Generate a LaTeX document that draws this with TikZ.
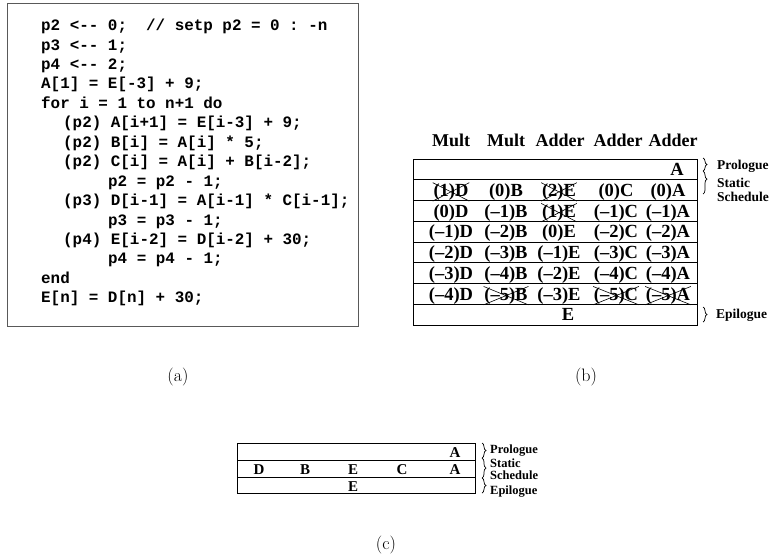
\documentclass[tikz,border=0pt]{standalone}
\usepackage{fontspec}
\setmonofont{Liberation Mono}
\newfontfamily\tnr[Ligatures=TeX]{Liberation Serif}
\usetikzlibrary{decorations.pathreplacing}

\begin{document}
\begin{tikzpicture}[
      x=1pt,y=-1pt,
      codeline/.style={anchor=base west,inner sep=0pt,
        font=\ttfamily\bfseries\fontsize{15.9}{18}\selectfont},
      unit/.style={anchor=base,inner sep=0pt,
        font=\tnr\bfseries\fontsize{18}{20}\selectfont},
      cell/.style={anchor=base,inner sep=0.6pt,
        font=\tnr\bfseries\fontsize{18.5}{20}\selectfont},
      smallcell/.style={anchor=base,inner sep=0pt,
        font=\tnr\bfseries\fontsize{15}{17}\selectfont},
      phase/.style={anchor=base west,inner sep=0pt,
        font=\tnr\bfseries\fontsize{13.5}{14}\selectfont},
      tinyphase/.style={anchor=base west,inner sep=0pt,
        font=\tnr\bfseries\fontsize{12.5}{13}\selectfont},
      sub/.style={font=\fontsize{18}{20}\selectfont},
      tbl/.style={line width=0.9pt},
      brc/.style={decorate,decoration={brace,amplitude=4pt},line width=0.7pt}
    ]
    \useasboundingbox (0,0) rectangle (773,558);

    % (a) the pipelined loop
    \draw[line width=0.9pt,black!65] (7,3) rectangle (358,326);
    \foreach \lvl/\txt [count=\k from 0] in {
        0/{p2 <-- 0;~~// setp p2 = 0 : -n},
        0/{p3 <-- 1;},
        0/{p4 <-- 2;},
        0/{A[1] = E[-3] + 9;},
        0/{for i = 1 to n+1 do},
        1/{(p2) A[i+1] = E[i-3] + 9;},
        1/{(p2) B[i] = A[i] * 5;},
        1/{(p2) C[i] = A[i] + B[i-2];},
        2/{p2 = p2 - 1;},
        1/{(p3) D[i-1] = A[i-1] * C[i-1];},
        2/{p3 = p3 - 1;},
        1/{(p4) E[i-2] = D[i-2] + 30;},
        2/{p4 = p4 - 1;},
        0/{end},
        0/{E[n] = D[n] + 30;}} {
      \node[codeline] (code\k) at ({{41,63,108}[\lvl]},{30.7+19.43*\k}) {\txt};
    }
    \node[sub] (cap-a) at (178,377) {(a)};

    % (b) schedule over the five units
    \foreach \name [count=\c] in {Mult,Mult,Adder,Adder,Adder} {
      \node[unit] (unit\c) at ({{451,506,560,618,673}[\c-1]},146) {\name};
    }
    \draw[tbl] (413,159) rectangle (697,325);
    \foreach \r in {1,...,7} {
      \draw[tbl] (413,{159+20.75*\r}) -- (697,{159+20.75*\r});
    }
    \node[cell] (e-1-5) at (677,{159+20.75*0.5+6.2}) {A};
    \foreach \row [count=\r from 2] in {
        {(1)D,(0)B,(2)E,(0)C,(0)A},
        {(0)D,(--1)B,(1)E,(--1)C,(--1)A},
        {(--1)D,(--2)B,(0)E,(--2)C,(--2)A},
        {(--2)D,(--3)B,(--1)E,(--3)C,(--3)A},
        {(--3)D,(--4)B,(--2)E,(--4)C,(--4)A},
        {(--4)D,(--5)B,(--3)E,(--5)C,(--5)A}} {
      \foreach \ent [count=\c] in \row {
        \node[cell] (e-\r-\c) at ({{451,506,559,616,668}[\c-1]},{159+20.75*(\r-0.5)+6.2}) {\ent};
      }
    }
    \node[cell] (e-8-3) at (568,{159+20.75*7.5+6.2}) {E};
    \foreach \n in {e-2-1,e-2-3,e-3-3,e-7-2,e-7-4,e-7-5} {
      \draw[line width=0.6pt] (\n.south west) -- (\n.north east)
        (\n.north west) -- (\n.south east);
    }
    \draw[brc] (703,158) -- (703,171);
    \draw[brc,decoration={aspect=0.35}] (703,171) -- (703,194);
    \draw[brc] (703,307) -- (703,322);
    \node[phase] (pro-b) at (717,169.5) {Prologue};
    \node[phase] (sta-b) at (717,187.5) {Static};
    \node[phase] (sch-b) at (717,201.5) {Schedule};
    \node[phase] (epi-b) at (716,318.5) {Epilogue};
    \node[sub] (cap-b) at (586,377) {(b)};

    % (c) collapsed schedule
    \draw[tbl] (237,443) rectangle (475,493);
    \draw[tbl] (237,460) -- (475,460) (237,477) -- (475,477);
    \node[smallcell] (c-1) at (455,457) {A};
    \foreach \op/\x [count=\c] in {D/259,B/305,E/353,C/402,A/455} {
      \node[smallcell] (s-\c) at (\x,474) {\op};
    }
    \node[smallcell] (c-3) at (353,491) {E};
    \draw[brc] (482,443) -- (482,458);
    \draw[brc] (482,458) -- (482,478);
    \draw[brc] (482,478) -- (482,493);
    \node[tinyphase] (pro-c) at (490,453) {Prologue};
    \node[tinyphase] (sta-c) at (490,467) {Static};
    \node[tinyphase] (sch-c) at (490,479.5) {Schedule};
    \node[tinyphase] (epi-c) at (490,494) {Epilogue};
    \node[sub] (cap-c) at (386,545) {(c)};
  \end{tikzpicture}
\end{document}
